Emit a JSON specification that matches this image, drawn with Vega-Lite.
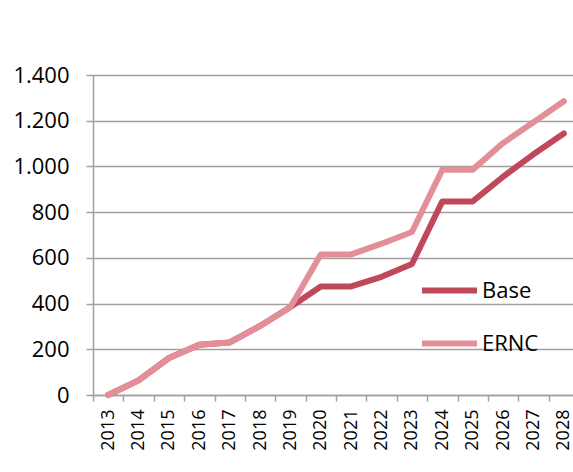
{
  "$schema": "https://vega.github.io/schema/vega-lite/v6.json",
  "autosize": "none",
  "width": 480,
  "height": 320,
  "padding": {"left": 93, "top": 75, "right": 0, "bottom": 77},
  "background": "white",
  "config": {
    "locale": {"number": {"decimal": ",", "thousands": ".", "grouping": [3], "currency": ["", ""]}},
    "view": {"stroke": null},
    "font": "Open Sans"
  },
  "data": {
    "values": [
      {"year": "2013", "series": "Base", "value": 0},
      {"year": "2014", "series": "Base", "value": 64},
      {"year": "2015", "series": "Base", "value": 162},
      {"year": "2016", "series": "Base", "value": 220},
      {"year": "2017", "series": "Base", "value": 230},
      {"year": "2018", "series": "Base", "value": 302},
      {"year": "2019", "series": "Base", "value": 385},
      {"year": "2020", "series": "Base", "value": 475},
      {"year": "2021", "series": "Base", "value": 475},
      {"year": "2022", "series": "Base", "value": 517},
      {"year": "2023", "series": "Base", "value": 573},
      {"year": "2024", "series": "Base", "value": 847},
      {"year": "2025", "series": "Base", "value": 847},
      {"year": "2026", "series": "Base", "value": 955},
      {"year": "2027", "series": "Base", "value": 1053},
      {"year": "2028", "series": "Base", "value": 1144},
      {"year": "2013", "series": "ERNC", "value": 0},
      {"year": "2014", "series": "ERNC", "value": 64},
      {"year": "2015", "series": "ERNC", "value": 162},
      {"year": "2016", "series": "ERNC", "value": 220},
      {"year": "2017", "series": "ERNC", "value": 230},
      {"year": "2018", "series": "ERNC", "value": 302},
      {"year": "2019", "series": "ERNC", "value": 385},
      {"year": "2020", "series": "ERNC", "value": 615},
      {"year": "2021", "series": "ERNC", "value": 615},
      {"year": "2022", "series": "ERNC", "value": 662},
      {"year": "2023", "series": "ERNC", "value": 713},
      {"year": "2024", "series": "ERNC", "value": 986},
      {"year": "2025", "series": "ERNC", "value": 986},
      {"year": "2026", "series": "ERNC", "value": 1102},
      {"year": "2027", "series": "ERNC", "value": 1193},
      {"year": "2028", "series": "ERNC", "value": 1285}
    ]
  },
  "mark": {"type": "line", "strokeWidth": 6, "strokeCap": "round", "strokeJoin": "round", "clip": false},
  "encoding": {
    "x": {
      "field": "year",
      "type": "ordinal",
      "scale": {"type": "band", "paddingInner": 0, "paddingOuter": 0, "range": [0, 486]},
      "axis": {
        "title": null,
        "labelAngle": -90,
        "labelAlign": "right",
        "labelBaseline": "middle",
        "labelFontSize": 18,
        "labelColor": "black",
        "labelPadding": 8,
        "tickBand": "extent",
        "tickSize": 6,
        "tickColor": "#a0a0a0",
        "tickWidth": 1.5,
        "domainColor": "#a0a0a0",
        "domainWidth": 1.5,
        "grid": false
      }
    },
    "y": {
      "field": "value",
      "type": "quantitative",
      "scale": {"domain": [0, 1400], "nice": false},
      "axis": {
        "title": null,
        "values": [0, 200, 400, 600, 800, 1000, 1200, 1400],
        "format": ",.0f",
        "labelFontSize": 22,
        "labelColor": "black",
        "labelPadding": 17,
        "tickSize": 7,
        "tickColor": "#a0a0a0",
        "tickWidth": 1.5,
        "domainColor": "#a0a0a0",
        "domainWidth": 1.5,
        "grid": true,
        "gridColor": "#a0a0a0",
        "gridWidth": 1.5
      }
    },
    "color": {
      "field": "series",
      "type": "nominal",
      "scale": {"domain": ["Base", "ERNC"], "range": ["#c0485b", "#e38f99"]},
      "legend": {
        "title": null,
        "orient": "none",
        "legendX": 326,
        "legendY": 185,
        "padding": 0,
        "symbolType": "stroke",
        "symbolSize": 3025,
        "symbolStrokeWidth": 6,
        "labelFontSize": 22,
        "labelColor": "black",
        "labelOffset": 2,
        "rowPadding": 10
      }
    }
  }
}
